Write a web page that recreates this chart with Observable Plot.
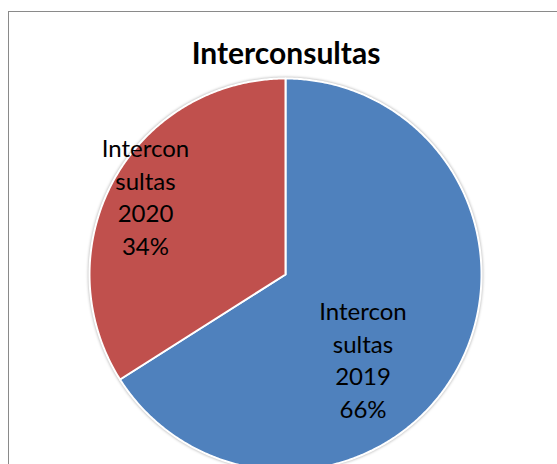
<!DOCTYPE html>
<html>
<head>
<meta charset="utf-8">
<script src="https://cdn.jsdelivr.net/npm/d3@7"></script>
<script src="https://cdn.jsdelivr.net/npm/@observablehq/plot@0.6"></script>
<style>
  html, body { margin: 0; padding: 0; background: #fff; }
  #wrap { position: relative; width: 557px; height: 464px; overflow: hidden; background: #fff; }
  #border { position: absolute; left: 8px; top: 11px; width: 600px; height: 500px; border: 1px solid #8a8a8a; box-sizing: border-box; }
  #title { position: absolute; left: 0; width: 572px; top: 32px; text-align: center; font-family: Lato, "Open Sans", sans-serif; font-weight: bold; font-size: 30px; color: #000; line-height: 40px; }
  #chart { position: absolute; left: 0; top: 0; }
  #chart g[aria-label="line"] { filter: drop-shadow(0 0 1.5px rgba(0,0,0,0.35)); }
</style>
</head>
<body>
<div id="wrap">
  <div id="border"></div>
  <div id="chart"></div>
  <div id="title">Interconsultas</div>
</div>
<script>
// ---- data ----
const categories = ["Interconsultas 2019", "Interconsultas 2020"];
const years = ["2019", "2020"];
const values = [66, 34];
const colors = ["#4F81BD", "#C0504D"];
const titleText = "Interconsultas";

// ---- layout ----
const W = 557, H = 464;
const cx = 285, cy = 274, R = 196;
// label placement (fraction of radius, angle clockwise from top, degrees)
const labelLayout = {
  "Interconsultas 2019": {r: 0.583, deg: 137.3},
  "Interconsultas 2020": {r: 0.82, deg: 299.4}
};

document.getElementById("title").textContent = titleText;

const total = d3.sum(values);
const pts = [];
let acc = 0;
categories.forEach((key, i) => {
  const a0 = acc / total * 2 * Math.PI;
  const a1 = (acc + values[i]) / total * 2 * Math.PI;
  acc += values[i];
  pts.push({key, x: 0, y: 0});
  const n = Math.max(2, Math.ceil((a1 - a0) / (Math.PI / 360)));
  for (let k = 0; k <= n; k++) {
    const a = a0 + (a1 - a0) * k / n;
    pts.push({key, x: Math.sin(a), y: Math.cos(a)});
  }
});

const labels = categories.map((key, i) => {
  const L = labelLayout[key];
  const a = L.deg * Math.PI / 180;
  return {
    key,
    x: L.r * Math.sin(a),
    y: L.r * Math.cos(a),
    text: "Intercon\nsultas\n" + years[i] + "\n" + Math.round(values[i] / total * 100) + "%"
  };
});

const chart = Plot.plot({
  width: W,
  height: H,
  x: {domain: [-1, 1], range: [cx - R, cx + R], axis: null},
  y: {domain: [-1, 1], range: [cy + R, cy - R], axis: null},
  color: {domain: categories, range: colors},
  style: {background: "transparent", overflow: "hidden"},
  marks: [
    Plot.line(pts, {x: "x", y: "y", z: "key", fill: "key", stroke: "white", strokeWidth: 2, curve: "linear-closed", strokeLinejoin: "round"}),
    Plot.text(labels, {x: "x", y: "y", text: "text", fill: "black", fontSize: 24, lineHeight: 1.36, fontFamily: "Lato, 'Open Sans', sans-serif", textAnchor: "middle"})
  ]
});
document.getElementById("chart").appendChild(chart);
</script>
</body>
</html>
